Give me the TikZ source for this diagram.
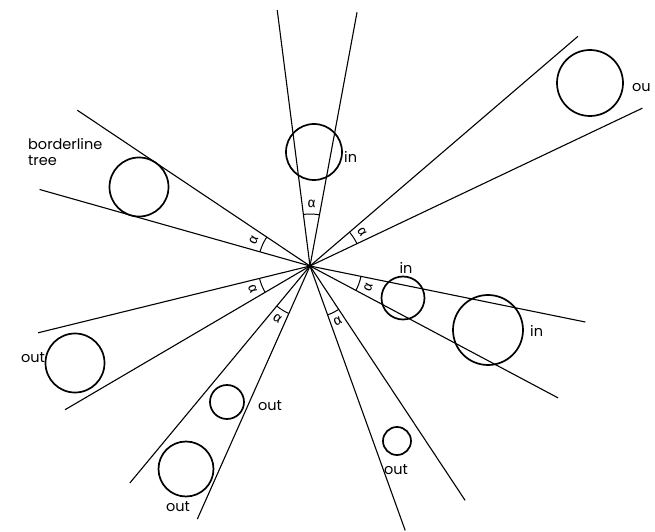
\documentclass[tikz,border=0pt]{standalone}
\usepackage{fontspec}
\setmainfont{Poppins}
\newfontfamily\grk{Fira Sans}
\tikzset{
  ray/.style={line width=1.1pt},
  gauge/.style={line width=1pt},
  tree/.style={circle, draw, line width=1.7pt, inner sep=0pt},
  lab/.style={font=\fontsize{14.5}{16}\selectfont, inner sep=0pt},
  alph/.style={font=\grk\fontsize{14}{14}\selectfont, inner sep=0pt}
}
\newcommand\mywedge[6]{%
  \coordinate (#1a) at (#2:#3pt);
  \coordinate (#1b) at (#4:#5pt);
  \draw[ray] (C) -- (#1a);
  \draw[ray] (C) -- (#1b);
  \pgfmathsetmacro\bis{(#2+#4)/2}
  \draw[gauge] (#2:52pt) arc[start angle=#2, end angle=#4, radius=52pt];
  \node[alph, rotate=#6] (#1al) at (\bis:62pt) {α};
}
\begin{document}
\begin{tikzpicture}[x=1pt,y=1pt]
\useasboundingbox (-310,-266) rectangle (345,266);
\coordinate (C) at (0,0);
\fill (C) circle (1.8pt);
% wedges
\mywedge{w1}{97.3}{258}{79.5}{258}{-1.6}
\mywedge{w2}{40.6}{353}{25.4}{368}{-57}
\mywedge{w3}{146.2}{280}{164.2}{281}{65}
\mywedge{w4}{193.8}{280}{210.4}{284}{-68}
\mywedge{w5}{230.3}{282}{246}{277}{-32}
\mywedge{w6}{289.8}{281}{303.5}{281}{26.6}
\mywedge{w7}{348.5}{281}{332}{281}{70}
% trees
\node[tree, minimum size=56pt] (t1) at (4,114) {};
\node[tree, minimum size=66pt] (t2) at (280,183) {};
\node[tree, minimum size=59pt] (t3) at (-171,79) {};
\node[tree, minimum size=59pt] (t4) at (-235,-97) {};
\node[tree, minimum size=34pt] (t5) at (-83,-136) {};
\node[tree, minimum size=55pt] (t6) at (-124,-203) {};
\node[tree, minimum size=28pt] (t7) at (87,-175) {};
\node[tree, minimum size=43pt] (t8) at (93,-32) {};
\node[tree, minimum size=70pt] (t9) at (178,-64) {};
% labels
\node[lab, anchor=west] (l1) at (34,109) {in};
\node[lab, anchor=west] (l2) at (322,178) {ou};
\node[lab, anchor=north west, align=left] (l3) at (-282,128) {borderline\\tree};
\node[lab] (l4) at (-277,-92) {out};
\node[lab] (l5) at (-40,-140) {out};
\node[lab] (l6) at (-132,-241) {out};
\node[lab] (l7) at (86,-204) {out};
\node[lab] (l8) at (96,-2) {in};
\node[lab, anchor=west] (l9) at (220,-65) {in};
\end{tikzpicture}
\end{document}
